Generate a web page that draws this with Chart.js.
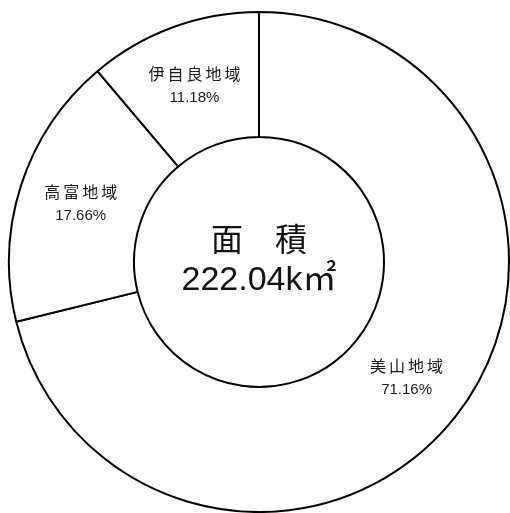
<!DOCTYPE html>
<html>
<head>
<meta charset="utf-8">
<script src="https://cdn.jsdelivr.net/npm/chart.js@4"></script>
<style>
  html, body { margin:0; padding:0; background:#fff; }
  #wrap { width:510px; height:513px; }
</style>
</head>
<body>
<div id="wrap"><canvas id="chartArea" width="510" height="513"></canvas></div>
<script>
// 地域別面積の割合
const regions = ['美山地域', '高富地域', '伊自良地域'];
const shares = [71.16, 17.66, 11.18];
const centerLines = ['面 積', '222.04k㎡'];

// slice labels: name + percent, drawn at each arc's middle
const sliceLabels = {
  id: 'sliceLabels',
  afterDatasetsDraw(chart) {
    const ctx = chart.ctx;
    const meta = chart.getDatasetMeta(0);
    ctx.save();
    ctx.fillStyle = '#1a1a1a';
    ctx.textAlign = 'center';
    ctx.textBaseline = 'middle';
    meta.data.forEach((arc, i) => {
      const p = arc.tooltipPosition();
      ctx.font = '16px "Noto Sans CJK JP", sans-serif';
      ctx.letterSpacing = '3px';
      ctx.fillText(regions[i], p.x + 1.5, p.y - 12);
      ctx.letterSpacing = '0px';
      ctx.font = '15px "Liberation Sans", sans-serif';
      ctx.fillText(shares[i].toFixed(2) + '%', p.x, p.y + 12);
    });
    ctx.restore();
  }
};

// total area in the hole
const centerText = {
  id: 'centerText',
  afterDatasetsDraw(chart) {
    const ctx = chart.ctx;
    const arc = chart.getDatasetMeta(0).data[0];
    ctx.save();
    ctx.fillStyle = '#111';
    ctx.textAlign = 'center';
    ctx.textBaseline = 'middle';
    ctx.font = '32px "Noto Sans CJK JP", sans-serif';
    ctx.letterSpacing = '0px';
    ctx.fillText(centerLines[0].replace(' ', '\u3000'), arc.x, arc.y - 23);
    ctx.font = '34px "Liberation Sans", "Noto Sans CJK JP", sans-serif';
    ctx.fillText(centerLines[1], arc.x, arc.y + 19);
    ctx.restore();
  }
};

new Chart(document.getElementById('chartArea'), {
  type: 'doughnut',
  data: {
    labels: regions,
    datasets: [{
      data: shares,
      backgroundColor: '#ffffff',
      borderColor: '#000000',
      borderWidth: 2,
      borderAlign: 'center'
    }]
  },
  options: {
    responsive: false,
    animation: false,
    cutout: '50%',
    rotation: 0,
    layout: { padding: { left: 8, right: 0, top: 11, bottom: 0 } },
    plugins: {
      legend: { display: false },
      tooltip: { enabled: false }
    }
  },
  plugins: [sliceLabels, centerText]
});
</script>
</body>
</html>
